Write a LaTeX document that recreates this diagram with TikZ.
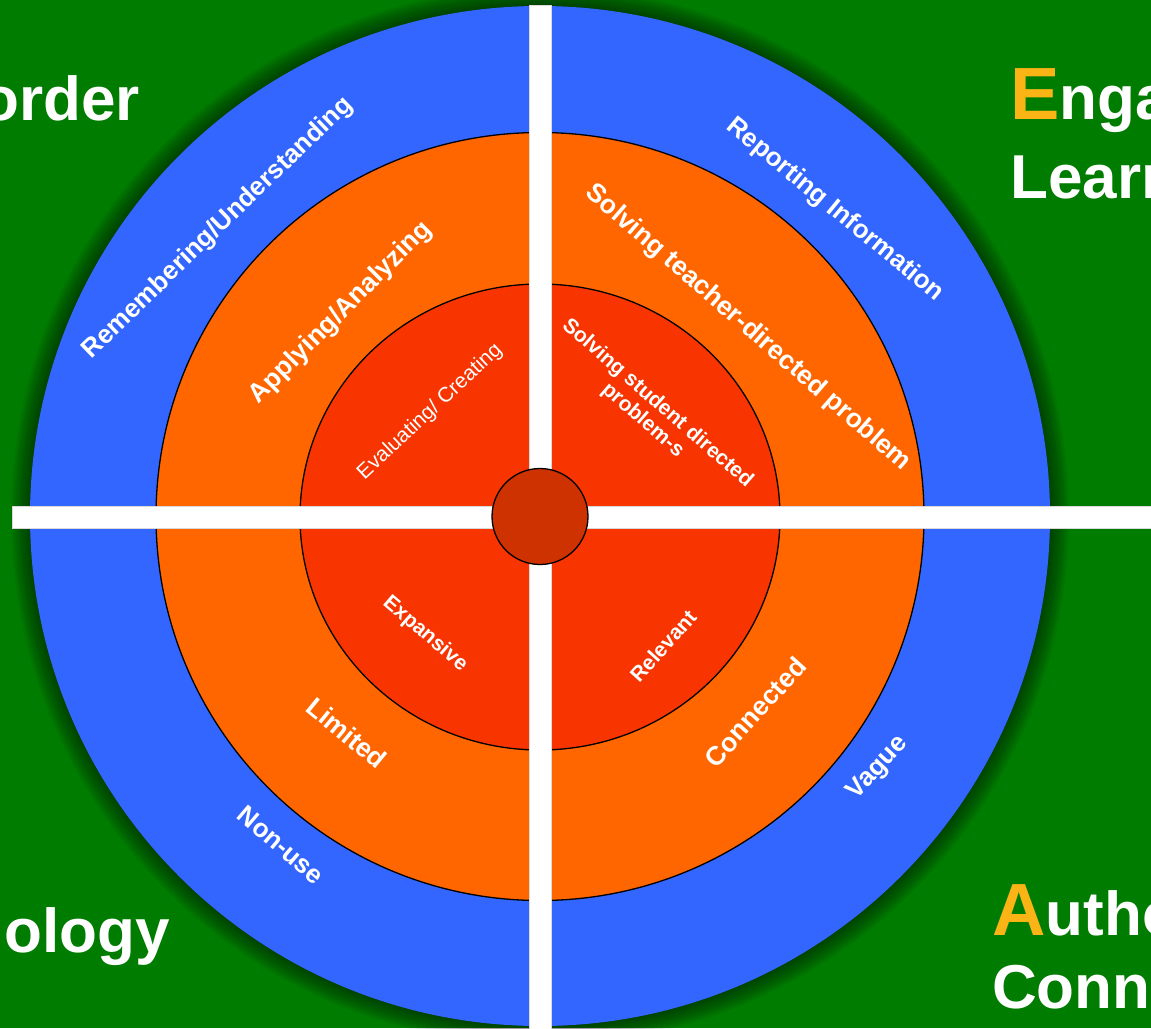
\documentclass[tikz,border=0pt]{standalone}
\usepackage{fontspec}
\setmainfont{Liberation Sans}
\definecolor{bggreen}{RGB}{0,124,0}
\definecolor{ringblue}{RGB}{51,102,255}
\definecolor{ringorange}{RGB}{255,102,0}
\definecolor{ringred}{RGB}{248,52,0}
\definecolor{hubred}{RGB}{206,50,0}
\definecolor{gold}{RGB}{251,180,22}
\begin{document}
\begin{tikzpicture}[x=1pt,y=-1pt,
  bigtxt/.style={text=white,font=\fontsize{62}{70}\selectfont\bfseries,inner sep=0pt},
  outerlbl/.style={text=white,font=\fontsize{26}{30}\selectfont\bfseries,inner sep=0pt},
  midlbl/.style={text=white,font=\fontsize{26.5}{30}\selectfont\bfseries,inner sep=0pt},
  innerlbl/.style={text=white,font=\fontsize{21}{22.5}\selectfont\bfseries,inner sep=0pt,align=center},
  innerreg/.style={text=white,font=\fontsize{21}{23}\selectfont,inner sep=0pt},
  ring/.style={draw=black,line width=1.3pt},
  bar/.style={fill=white,draw=white!85!black,line width=0.5pt}]
\useasboundingbox (0,0) rectangle (1151,1028);
\clip (0,0) rectangle (1151,1028);
\fill[bggreen] (0,0) rectangle (1151,1028);
% shadow of outer circle
\foreach \r in {511,513,...,529}{\fill[black,opacity=0.055] (540,516) circle[radius=\r];}
\fill[ringblue] (540,516) circle[radius=510];
\filldraw[ringorange,ring] (540,516.5) circle[radius=384];
\filldraw[ringred,ring] (540,517) ellipse[x radius=240,y radius=233];
% bars
\filldraw[bar] (529,5) rectangle (551,1030);
\filldraw[bar] (12,506) rectangle (1155,528);
\filldraw[hubred,draw=black,line width=1.3pt] (540,516.5) circle[radius=48] node (hub) {};
% side texts
\node[bigtxt,anchor=base east] (t1) at (140,120) {order};
\node[bigtxt,anchor=base east] (t2) at (170,952) {ology};
\node[bigtxt,anchor=base west] (t3) at (1010,119) {\textcolor{gold}{\fontsize{74}{80}\selectfont E}nga};
\node[bigtxt,anchor=base west] (t4) at (1010,198) {Learn};
\node[bigtxt,anchor=base west] (t5) at (992,935) {\textcolor{gold}{\fontsize{74}{80}\selectfont A}utho};
\node[bigtxt,anchor=base west] (t6) at (992,1008) {Conn};
% ring labels
\node[outerlbl,rotate=44] (l1) at (218,228) {Remembering/Understanding};
\node[outerlbl,rotate=-39.5] (l2) at (835,210) {Reporting Information};
\node[outerlbl,rotate=-40.5] (l3) at (281,845) {Non-use};
\node[outerlbl,rotate=47] (l4) at (878,768) {Vague};
\node[midlbl,rotate=45] (m1) at (341,313) {Applying/Analyzing};
\node[midlbl,rotate=-41] (m2) at (748,328) {Solving teacher-directed problem};
\node[midlbl,rotate=-39.5] (m3) at (347,733) {Limited};
\node[midlbl,rotate=48] (m4) at (755,712) {Connected};
\node[innerreg,rotate=43] (i1) at (430,412) {Evaluating/ Creating};
\node[innerlbl,rotate=-41] (i2) at (650,412) {Solving student directed\\problem-s};
\node[innerlbl,rotate=-40.6] (i3) at (425,634) {Expansive};
\node[innerlbl,rotate=48] (i4) at (663,646) {Relevant};
\end{tikzpicture}
\end{document}
